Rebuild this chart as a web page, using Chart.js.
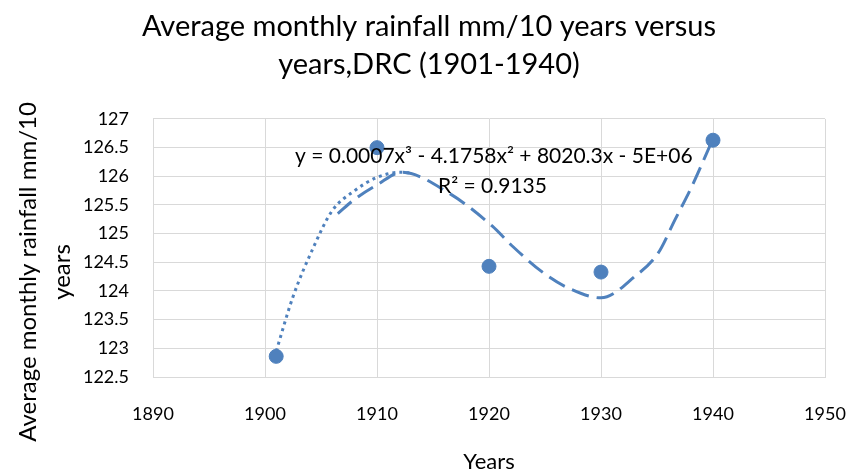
<!DOCTYPE html>
<html><head><meta charset="utf-8">
<script src="https://cdn.jsdelivr.net/npm/chart.js@4"></script>
<style>html,body{margin:0;padding:0;background:#fff}#wrap{width:858px;height:475px}</style>
</head><body><div id="wrap"><canvas id="c" width="858" height="475"></canvas></div>
<script>
const years = [1901, 1910, 1920, 1930, 1940];
const rainfall = [122.86, 126.5, 124.43, 124.33, 126.63];
const trendDottedX = [1901, 1902.5, 1904.3, 1906, 1908, 1910, 1912, 1913];
const trendDottedY = [122.95, 123.9, 124.75, 125.4, 125.75, 125.98, 126.07, 126.06];
const trendDashedX = [1906.5, 1908, 1910, 1912.2, 1916.4, 1920.3, 1922.1, 1924.9, 1927, 1930, 1933, 1935.1, 1936.6, 1938.1, 1939.9];
const trendDashedY = [125.35, 125.6, 125.85, 126.07, 125.71, 125.13, 124.78, 124.31, 124.06, 123.88, 124.25, 124.66, 125.24, 125.82, 126.61];
const xTicks = [1890, 1900, 1910, 1920, 1930, 1940, 1950];
const yTicks = [122.5, 123, 123.5, 124, 124.5, 125, 125.5, 126, 126.5, 127];
const titleLines = ['Average monthly rainfall mm/10 years versus', 'years,DRC (1901-1940)'];
const yTitleLines = ['Average monthly rainfall mm/10', 'years'];
const xTitle = 'Years';
const equation = 'y = 0.0007x³ - 4.1758x² + 8020.3x - 5E+06';
const rSquared = 'R² = 0.9135';

const FONT = 'Lato, "Open Sans", sans-serif';
const BLUE = '#4f81bd';
const pts = (xs, ys) => xs.map((x, i) => ({x, y: ys[i]}));

const overlay = {
  id: 'overlay',
  afterDraw(chart) {
    const ctx = chart.ctx;
    ctx.save();
    ctx.fillStyle = '#000';
    ctx.font = '21px ' + FONT;
    ctx.textAlign = 'left';
    ctx.textBaseline = 'middle';
    ctx.fillText(equation, 295, 156);
    ctx.fillText(rSquared, 438, 186);
    ctx.font = '24px ' + FONT;
    ctx.textAlign = 'center';
    [[28, yTitleLines[0]], [62, yTitleLines[1]]].forEach(([x, t]) => {
      ctx.save();
      ctx.translate(x, 272);
      ctx.rotate(-Math.PI / 2);
      ctx.fillText(t, 0, 0);
      ctx.restore();
    });
    ctx.restore();
  }
};

new Chart(document.getElementById('c'), {
  type: 'scatter',
  data: {
    datasets: [
      {data: pts(years, rainfall), backgroundColor: BLUE, borderColor: BLUE, pointRadius: 7, pointHoverRadius: 7, showLine: false, order: 0},
      {data: pts(trendDottedX, trendDottedY), showLine: true, borderColor: BLUE, borderWidth: 3, borderDash: [3, 4], pointRadius: 0, cubicInterpolationMode: 'monotone', fill: false, order: 2},
      {data: pts(trendDashedX, trendDashedY), showLine: true, borderColor: BLUE, borderWidth: 3, borderDash: [18, 8], pointRadius: 0, cubicInterpolationMode: 'monotone', fill: false, order: 1}
    ]
  },
  options: {
    responsive: false,
    animation: false,
    layout: {padding: {left: 0, right: 0, top: 0, bottom: 0}},
    plugins: {
      legend: {display: false},
      tooltip: {enabled: false},
      title: {display: true, text: titleLines, color: '#000', font: {family: FONT, size: 29, weight: 'normal', lineHeight: 1.31}, padding: {top: 8, bottom: 35}}
    },
    scales: {
      x: {
        type: 'linear', min: 1890, max: 1950,
        afterBuildTicks: s => { s.ticks = xTicks.map(v => ({value: v})); },
        afterFit: s => { s.height = 98; s.paddingLeft = 0; s.paddingRight = 33; },
        grid: {color: '#d9d9d9', lineWidth: 1, drawTicks: false},
        border: {color: '#d9d9d9'},
        ticks: {color: '#000', font: {family: FONT, size: 18}, padding: 26, callback: v => String(v)},
        title: {display: true, text: xTitle, color: '#000', font: {family: FONT, size: 22}, padding: {top: 0, bottom: 0}}
      },
      y: {
        min: 122.5, max: 127,
        afterBuildTicks: s => { s.ticks = yTicks.map(v => ({value: v})); },
        afterFit: s => { s.width = 153; s.paddingTop = 0; s.paddingBottom = 0; },
        grid: {color: '#d9d9d9', lineWidth: 1, drawTicks: false},
        border: {color: '#d9d9d9'},
        ticks: {color: '#000', font: {family: FONT, size: 18}, padding: 24, callback: v => String(v)}
      }
    }
  },
  plugins: [overlay]
});
</script></body></html>
